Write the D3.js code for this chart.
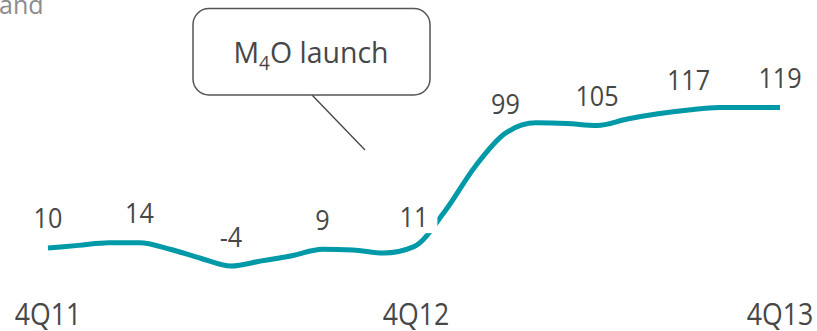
<!DOCTYPE html>
<html>
<head>
<meta charset="utf-8">
<script src="https://cdn.jsdelivr.net/npm/d3@7"></script>
<style>
  html, body { margin: 0; padding: 0; background: #fff; }
  svg { display: block; font-family: "Open Sans", "Noto Sans", sans-serif; }
</style>
</head>
<body>
<svg id="chart" width="817" height="331"></svg>
<script>
// Quarterly values, labelled on the line
const quarters = ["4Q11", "1Q12", "2Q12", "3Q12", "4Q12", "1Q13", "2Q13", "3Q13", "4Q13"];
const quarterValues = [10, 14, -4, 9, 11, 99, 105, 117, 119];
// The two months that sit between consecutive quarter-ends
const betweenMonths = [[12, 14], [9, 2], [0, 4], [8.5, 6], [38, 73], [107, 106.5], [110, 114], [119, 119]];
// Axis labels shown under the line
const tickLabels = ["4Q11", "4Q12", "4Q13"];

// Monthly series: quarter-end values with the in-between months
const monthly = [];
quarterValues.forEach((v, i) => {
  monthly.push({ i: i * 3, v });
  if (i < betweenMonths.length) {
    monthly.push({ i: i * 3 + 1, v: betweenMonths[i][0] });
    monthly.push({ i: i * 3 + 2, v: betweenMonths[i][1] });
  }
});

const svg = d3.select("#chart");
const teal = "#0099a8";
const textColor = "#474747";

const x = d3.scaleLinear().domain([0, (quarters.length - 1) * 3]).range([48, 780]);
const y = d3.scaleLinear().domain([-4, 119]).range([266, 107.4]);

// Fragment of the heading above the chart
svg.append("text")
  .attr("x", -1).attr("y", 13.5)
  .attr("font-size", 25).attr("fill", "#8c8c8c")
  .text("and");

// Line
const line = d3.line().x(d => x(d.i)).y(d => y(d.v)).curve(d3.curveMonotoneX);
svg.append("path")
  .datum(monthly)
  .attr("d", line)
  .attr("fill", "none")
  .attr("stroke", teal)
  .attr("stroke-width", 5);

// Value labels on a white ground
const labels = svg.append("g").selectAll("g")
  .data(quarterValues.map((v, k) => ({ i: k * 3, v })))
  .join("g")
  .attr("transform", d => `translate(${x(d.i)},${y(d.v) - 19.5}) scale(0.9,1)`);
labels.append("rect").attr("fill", "#fff");
labels.append("text")
  .attr("text-anchor", "middle")
  .attr("font-size", 28)
  .attr("fill", textColor)
  .text(d => d.v);
labels.each(function () {
  const g = d3.select(this);
  const bb = g.select("text").node().getBBox();
  g.select("rect")
    .attr("x", bb.x - 10).attr("y", bb.y)
    .attr("width", bb.width + 20).attr("height", -bb.y + 6);
});

// Quarter axis
const tickIdx = tickLabels.map(t => quarters.indexOf(t) * 3);
const axis = svg.append("g")
  .call(d3.axisBottom(x).tickValues(tickIdx).tickFormat((d, k) => tickLabels[k]).tickSize(0).tickPadding(0));
axis.select(".domain").remove();
axis.selectAll(".tick")
  .attr("transform", d => `translate(${x(d) + (d === tickIdx[1] ? 2 : 0)},0)`);
axis.selectAll("text")
  .attr("font-family", "\"Open Sans\", sans-serif")
  .attr("font-size", 31)
  .attr("fill", textColor)
  .attr("x", 0)
  .attr("y", 0)
  .attr("dy", 0)
  .attr("transform", "translate(0,325) scale(0.86,1)");

// Launch callout
const callout = svg.append("g");
callout.append("line")
  .attr("x1", 312).attr("y1", 95)
  .attr("x2", 365).attr("y2", 150)
  .attr("stroke", "#444").attr("stroke-width", 1.3);
callout.append("rect")
  .attr("x", 193).attr("y", 8.5)
  .attr("width", 237).attr("height", 86.5)
  .attr("rx", 16).attr("ry", 16)
  .attr("fill", "#fff")
  .attr("stroke", "#555").attr("stroke-width", 1.5);
const ct = callout.append("text")
  .attr("transform", "translate(311,63) scale(0.95,1)")
  .attr("text-anchor", "middle")
  .attr("font-size", 30)
  .attr("fill", textColor);
ct.append("tspan").text("M");
ct.append("tspan").attr("font-size", 20).attr("dy", 7).text("4");
ct.append("tspan").attr("dy", -7).text("O launch");
</script>
</body>
</html>
